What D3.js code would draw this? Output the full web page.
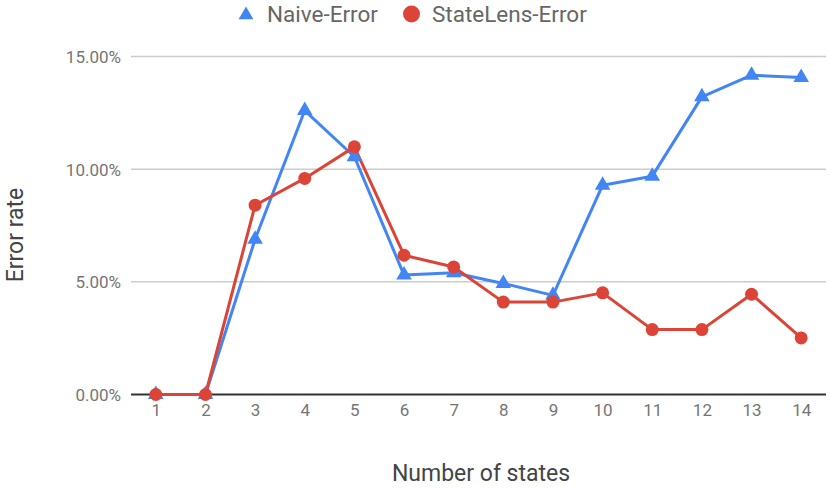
<!DOCTYPE html>
<html><head><meta charset="utf-8">
<script src="https://cdn.jsdelivr.net/npm/d3@7"></script>
<style>body{margin:0;background:#fff}svg{display:block;font-family:Roboto,sans-serif}</style>
</head><body><svg id="c" width="830" height="489"></svg>
<script>
const categories = ["1","2","3","4","5","6","7","8","9","10","11","12","13","14"];
const naiveError = [0, 0, 6.89, 12.6, 10.55, 5.30, 5.40, 4.93, 4.40, 9.29, 9.69, 13.21, 14.17, 14.07];
const stateLensError = [0, 0, 8.40, 9.59, 10.99, 6.18, 5.66, 4.10, 4.10, 4.51, 2.88, 2.88, 4.45, 2.51];
const yTicks = [0, 5, 10, 15];
const seriesNames = ["Naive-Error", "StateLens-Error"];
const colors = ["#4285F4", "#DB4437"];

const svg = d3.select("#c");
const x = d3.scalePoint().domain(categories).range([131, 826]).padding(0.5);
const y = d3.scaleLinear().domain([0, 15]).range([394.5, 56.5]);

// gridlines
svg.append("g").selectAll("line").data(yTicks.filter(d => d !== 0)).join("line")
  .attr("x1", 131).attr("x2", 826)
  .attr("y1", d => y(d)).attr("y2", d => y(d))
  .attr("stroke", "#cccccc").attr("stroke-width", 1.5);

// y axis labels
const yAxis = d3.axisLeft(y).tickValues(yTicks).tickSize(0).tickPadding(0)
  .tickFormat(d => d3.format(".2f")(d) + "%");
const gy = svg.append("g").attr("transform", "translate(121,0)").call(yAxis);
gy.select(".domain").remove();
gy.selectAll("text").attr("font-size", 17).attr("fill", "#757575").attr("font-family", "Roboto").attr("dy", "0.35em");

// x axis
const xAxis = d3.axisBottom(x).tickSize(0).tickPadding(0);
const gx = svg.append("g").attr("transform", "translate(0,404)").call(xAxis);
gx.select(".domain").remove();
gx.selectAll("text").attr("font-size", 17).attr("fill", "#757575").attr("font-family", "Roboto").attr("dy", "0.71em");

// baseline
svg.append("line").attr("x1", 131).attr("x2", 826).attr("y1", y(0)).attr("y2", y(0))
  .attr("stroke", "#333333").attr("stroke-width", 2);

const series = [naiveError, stateLensError];
const line = d3.line().x((d, i) => x(categories[i])).y(d => y(d));
series.forEach((s, k) => {
  svg.append("path").datum(s).attr("d", line).attr("fill", "none")
    .attr("stroke", colors[k]).attr("stroke-width", 3).attr("stroke-linejoin", "round");
});
// markers
svg.append("g").selectAll("path").data(naiveError).join("path")
  .attr("d", d3.symbol(d3.symbolTriangle, 105))
  .attr("transform", (d, i) => `translate(${x(categories[i])},${y(d)})`)
  .attr("fill", colors[0]);
svg.append("g").selectAll("circle").data(stateLensError).join("circle")
  .attr("cx", (d, i) => x(categories[i])).attr("cy", d => y(d)).attr("r", 6.5)
  .attr("fill", colors[1]);

// legend
const lg = svg.append("g");
lg.append("path").attr("d", d3.symbol(d3.symbolTriangle, 95)).attr("transform", "translate(246,15)").attr("fill", colors[0]);
lg.append("text").attr("x", 267).attr("y", 22).text(seriesNames[0]).attr("font-size", 22.5).attr("fill", "#666666");
lg.append("circle").attr("cx", 411.5).attr("cy", 14).attr("r", 8.5).attr("fill", colors[1]);
lg.append("text").attr("x", 432).attr("y", 22).text(seriesNames[1]).attr("font-size", 22.5).attr("fill", "#666666");

// axis titles
svg.append("text").attr("x", 481).attr("y", 481).attr("text-anchor", "middle")
  .attr("font-size", 23).attr("fill", "#444444").text("Number of states");
svg.append("text").attr("transform", "translate(23,235) rotate(-90)").attr("text-anchor", "middle")
  .attr("font-size", 23).attr("fill", "#444444").text("Error rate");
</script></body></html>
